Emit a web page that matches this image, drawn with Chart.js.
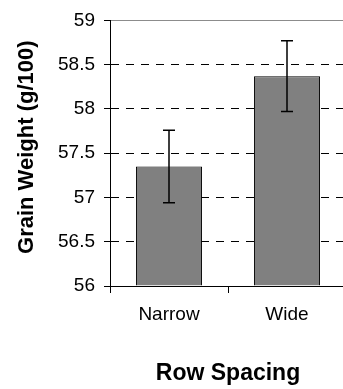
<!DOCTYPE html>
<html>
<head>
<meta charset="utf-8">
<script src="https://cdn.jsdelivr.net/npm/chart.js@4/dist/chart.umd.min.js"></script>
<style>
  html, body { margin: 0; padding: 0; background: #fff; overflow: hidden; }
  canvas { display: block; }
</style>
</head>
<body>
<canvas id="grainChart" width="350" height="389"></canvas>
<script>
// grain weight by row spacing, mean +/- error
const categories = ['Narrow', 'Wide'];
const grainWeight = [57.35, 58.37];
const grainError = [0.41, 0.40];
const yTicks = [56, 56.5, 57, 57.5, 58, 58.5, 59];
const yTitle = 'Grain Weight (g/100)';

const FONT = "'Liberation Sans', Arial, sans-serif";

// whiskers drawn on top of the bars
const errorBars = {
    id: 'errorBars',
    afterDatasetsDraw(chart) {
        const ctx = chart.ctx;
        const y = chart.scales.y;
        const meta = chart.getDatasetMeta(0);
        ctx.save();
        ctx.strokeStyle = '#000';
        ctx.lineWidth = 1.5;
        meta.data.forEach((bar, i) => {
            const top = y.getPixelForValue(grainWeight[i] + grainError[i]);
            const bot = y.getPixelForValue(grainWeight[i] - grainError[i]);
            ctx.beginPath();
            ctx.moveTo(bar.x, top);
            ctx.lineTo(bar.x, bot);
            ctx.moveTo(bar.x - 6, top);
            ctx.lineTo(bar.x + 6, top);
            ctx.moveTo(bar.x - 6, bot);
            ctx.lineTo(bar.x + 6, bot);
            ctx.stroke();
        });
        ctx.restore();
    }
};

// y title sits a little above the middle of the axis
const sideTitle = {
    id: 'sideTitle',
    afterDraw(chart) {
        const ctx = chart.ctx;
        const area = chart.chartArea;
        ctx.save();
        ctx.translate(27, (area.top + area.bottom) / 2 - 6);
        ctx.rotate(-Math.PI / 2);
        ctx.font = 'bold 22px ' + FONT;
        ctx.fillStyle = '#000';
        ctx.textAlign = 'center';
        ctx.textBaseline = 'middle';
        ctx.fillText(yTitle, 0, 0);
        ctx.restore();
    }
};

new Chart(document.getElementById('grainChart'), {
    type: 'bar',
    data: {
        labels: categories,
        datasets: [{
            data: grainWeight,
            base: 56,
            backgroundColor: '#808080',
            borderColor: '#000',
            borderWidth: 1,
            barPercentage: 0.56,
            categoryPercentage: 1
        }]
    },
    options: {
        responsive: false,
        animation: false,
        layout: { padding: { top: 19, right: 4, bottom: 0, left: 0 } },
        plugins: {
            legend: { display: false },
            tooltip: { enabled: false }
        },
        scales: {
            x: {
                afterFit: s => { s.height = 103; },
                grid: {
                    drawOnChartArea: false,
                    tickLength: 7,
                    tickColor: '#000'
                },
                border: { color: '#000', width: 1 },
                ticks: { color: '#000', padding: 10, font: { family: FONT, size: 19 } },
                title: {
                    display: true,
                    text: 'Row Spacing',
                    color: '#000',
                    padding: { top: 0, bottom: 2 },
                    font: { family: FONT, size: 23, weight: 'bold' }
                }
            },
            y: {
                min: 56,
                max: 59,
                afterFit: s => { s.width = 110; },
                afterBuildTicks: s => { s.ticks = yTicks.map(v => ({ value: v })); },
                grid: {
                    color: c => (c.tick && c.tick.value === 59) ? '#8c8c8c' : '#000',
                    tickLength: 6,
                    tickColor: '#000'
                },
                border: {
                    color: '#000',
                    width: 1,
                    dash: c => (c.tick && c.tick.value === 59) ? [] : [8, 7]
                },
                ticks: {
                    color: '#000',
                    padding: 9,
                    font: { family: FONT, size: 19 },
                    callback: v => String(v)
                }
            }
        }
    },
    plugins: [errorBars, sideTitle]
});
</script>
</body>
</html>
